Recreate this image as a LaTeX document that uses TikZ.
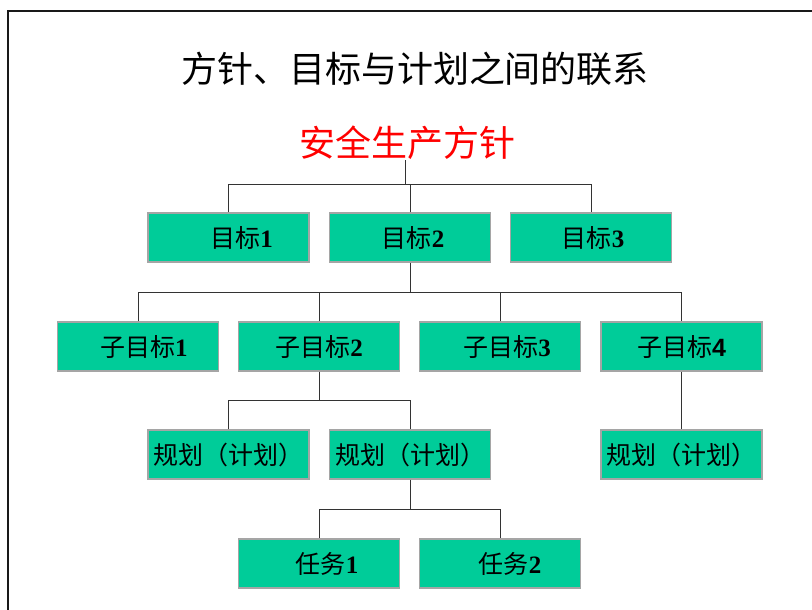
\documentclass[tikz,border=0pt]{standalone}
\usepackage{fontspec}
\setmainfont{Liberation Serif}
\newfontfamily\cjk{Noto Sans CJK SC}
\newfontfamily\arialf{Liberation Sans}
\definecolor{boxgreen}{RGB}{0,204,153}
\definecolor{boxedge}{RGB}{165,165,165}
\begin{document}
\begin{tikzpicture}[x=1pt,y=-1pt,
  box/.style={draw=boxedge, line width=1.2pt, fill=boxgreen, minimum width=161pt, minimum height=49pt, inner sep=0pt, font=\fontsize{25}{25}\selectfont},
  conn/.style={draw=black!80, line width=1pt},
  frame/.style={draw=black!90, line width=1.5pt}]
\useasboundingbox (0,0) rectangle (812,610);
\draw[frame] (8,610) -- (8,11) -- (812,11);

\node[inner sep=0pt, font=\fontsize{36}{36}\selectfont\cjk] (title) at (415,69) {方针、目标与计划之间的联系};
\node[inner sep=0pt, text=red, font=\fontsize{36}{36}\selectfont\cjk] (root) at (407.5,143) {安全生产方针};

\node[box] (g1) at (228.5,237.5) {\hspace*{26pt}{\cjk 目标}\textbf{1}};
\node[box] (g2) at (410,237.5) {\hspace*{6pt}{\cjk 目标}\textbf{2}};
\node[box] (g3) at (591,237.5) {\hspace*{4pt}{\cjk 目标}\textbf{3}};

\node[box] (s1) at (138,346.5) {\hspace*{12pt}{\cjk 子目标}\textbf{1}};
\node[box] (s2) at (319,346.5) {{\cjk 子目标}\textbf{2}};
\node[box] (s3) at (500,346.5) {\hspace*{14pt}{\cjk 子目标}\textbf{3}};
\node[box] (s4) at (681.5,346.5) {{\cjk 子目标}{\arialf\bfseries 4}};

\node[box] (p1) at (228.5,454.5) {\cjk 规划（计划）};
\node[box] (p2) at (410,454.5) {\cjk 规划（计划）};
\node[box] (p4) at (681.5,454.5) {\cjk 规划（计划）};

\node[box] (t1) at (319,563.5) {\hspace*{16pt}{\cjk 任务}\textbf{1}};
\node[box] (t2) at (500,563.5) {\hspace*{20pt}{\cjk 任务}\textbf{2}};

\coordinate (b0) at (405,184);
\coordinate (b1) at (410,292);
\coordinate (b2) at (319,400);
\coordinate (b3) at (410,509);

\draw[conn] (root.south -| b0) -- (b0);
\draw[conn] (g1.north) -- (g1.north |- b0) -- (g3.north |- b0) -- (g3.north);
\draw[conn] (g2.north) -- (g2.north |- b0);

\draw[conn] (g2.south) -- (b1);
\draw[conn] (s1.north) -- (s1.north |- b1) -- (s4.north |- b1) -- (s4.north);
\draw[conn] (s2.north) -- (s2.north |- b1);
\draw[conn] (s3.north) -- (s3.north |- b1);

\draw[conn] (s2.south) -- (b2);
\draw[conn] (p1.north) -- (p1.north |- b2) -- (p2.north |- b2) -- (p2.north);
\draw[conn] (s4.south) -- (p4.north);

\draw[conn] (p2.south) -- (b3);
\draw[conn] (t1.north) -- (t1.north |- b3) -- (t2.north |- b3) -- (t2.north);
\end{tikzpicture}
\end{document}
